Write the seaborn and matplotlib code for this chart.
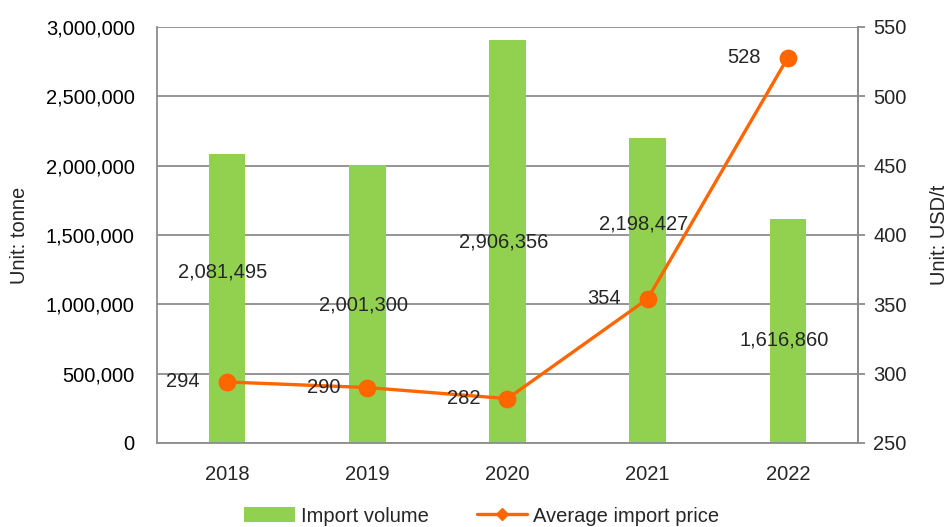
import matplotlib
matplotlib.use("Agg")
import matplotlib.pyplot as plt
import seaborn as sns
from matplotlib.patches import Patch
from matplotlib.lines import Line2D
from matplotlib.ticker import FuncFormatter

years = ["2018", "2019", "2020", "2021", "2022"]
import_volume = [2081495, 2001300, 2906356, 2198427, 1616860]
avg_price = [294, 290, 282, 354, 528]

# where Excel dropped the volume labels (pixels below the bar top)
vol_label_drop = [118, 140, 202, 86, 121]

green = "#92D050"
orange = "#FF6600"
grid_col = "#8C8C8C"
fs = 14.5

sns.set_theme(style="white")
plt.rcParams["font.family"] = ["Liberation Sans", "DejaVu Sans"]

fig = plt.figure(figsize=(9.52, 5.27), dpi=100)
ax = fig.add_axes([157 / 952, 84 / 527, 701 / 952, 416 / 527])

sns.barplot(x=years, y=import_volume, color=green, width=0.26, ax=ax,
            saturation=1, edgecolor="none")
ax.set_ylim(0, 3000000)
ax.set_yticks(range(0, 3000001, 500000))
ax.yaxis.set_major_formatter(FuncFormatter(lambda v, p: f"{int(v):,}"))
ax.grid(axis="y", color=grid_col, linewidth=1.3)
ax.set_axisbelow(True)
ax.tick_params(axis="y", labelsize=fs, pad=16, length=0, colors="black")
ax.tick_params(axis="x", labelsize=fs, pad=16, length=0)
ax.set_ylabel("Unit: tonne", fontsize=fs, labelpad=12)
ax.set_xlabel("")
for side in ["left", "bottom", "right"]:
    ax.spines[side].set_color(grid_col)
    ax.spines[side].set_linewidth(1.3)
ax.spines["top"].set_visible(False)

for i, v in enumerate(import_volume):
    ax.annotate(f"{v:,}", xy=(i, v), xytext=(-4, -vol_label_drop[i]),
                textcoords="offset pixels", ha="center", va="center", fontsize=fs)

ax2 = ax.twinx()
sns.pointplot(x=years, y=avg_price, color=orange, ax=ax2, markers="o",
              linestyles="-", markersize=11, linewidth=2.4)
ax2.set_ylim(250, 550)
ax2.set_yticks(range(250, 551, 50))
ax2.tick_params(axis="y", labelsize=fs, length=5, width=1.3, color=grid_col, pad=6)
ax2.set_ylabel("Unit: USD/t", fontsize=fs, rotation=90, labelpad=17)
ax2.grid(False)
for side in ["left", "bottom", "right", "top"]:
    ax2.spines[side].set_visible(False)
ax2.spines["right"].set_visible(True)
ax2.spines["right"].set_color(grid_col)
ax2.spines["right"].set_linewidth(1.3)

for i, v in enumerate(avg_price):
    ax2.annotate(str(v), xy=(i, v), xytext=(-44, 0), textcoords="offset pixels",
                 ha="center", va="center", fontsize=fs)

handles = [
    Patch(facecolor=green, edgecolor="none", label="Import volume"),
    Line2D([0], [0], color=orange, linewidth=2.4, marker="D", markersize=6,
           label="Average import price"),
]
fig.legend(handles=handles, loc="center", bbox_to_anchor=(482 / 952, 1 - 516 / 527),
           ncol=2, frameon=False, fontsize=fs, handlelength=2.5, columnspacing=2.4,
           handletextpad=0.3)

fig.savefig("out.png", dpi=100)
